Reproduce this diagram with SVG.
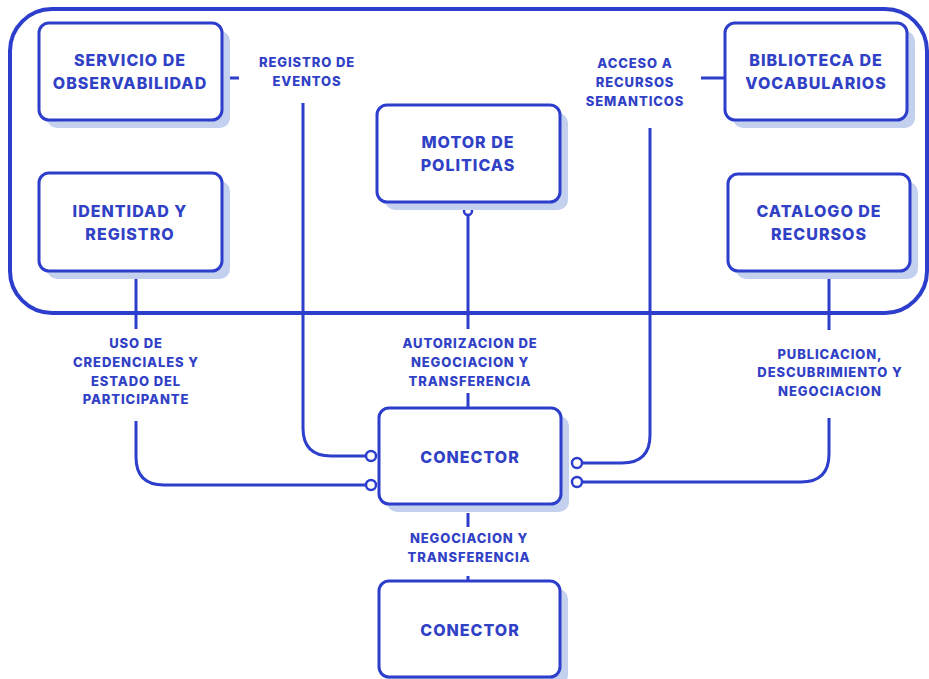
<svg xmlns="http://www.w3.org/2000/svg" width="929" height="679" viewBox="0 0 929 679">
  <style>
    .frame { fill: none; stroke: #2c3ecb; stroke-width: 4; }
    .box { fill: #ffffff; stroke: #2c3ecb; stroke-width: 3; }
    .shadow { fill: #c3d1ef; }
    .wire { fill: none; stroke: #2c3ecb; stroke-width: 3; stroke-linecap: butt; }
    .port { fill: #ffffff; stroke: #2c3ecb; stroke-width: 2.5; }
    .title { font-family: Inter, "Liberation Sans", sans-serif; font-weight: 800; font-size: 16px; letter-spacing: 1px; fill: #3041c6; text-anchor: middle; dominant-baseline: central; }
    .label { font-family: Inter, "Liberation Sans", sans-serif; font-weight: 800; font-size: 13px; letter-spacing: 0.9px; fill: #3041c6; text-anchor: middle; dominant-baseline: central; }
  </style>

  <rect x="0" y="0" width="929" height="679" fill="#ffffff"/>

  <!-- enclosing domain frame -->
  <rect class="frame" x="10" y="9" width="917" height="304" rx="42"/>

  <!-- connectors -->
  <g id="connectors">
    <!-- observabilidad stub -->
    <line class="wire" x1="229" y1="78" x2="239" y2="78"/>
    <!-- registro de eventos -> conector -->
    <path class="wire" d="M303 103 V428 Q303 456 331 456 H366"/>
    <circle class="port" cx="371" cy="456" r="5"/>
    <!-- identidad -> conector -->
    <line class="wire" x1="136" y1="272" x2="136" y2="329"/>
    <path class="wire" d="M136 421 V457 Q136 485 164 485 H366"/>
    <circle class="port" cx="371" cy="485" r="5"/>
    <!-- motor de politicas -> conector -->
    <circle class="port" cx="468" cy="211" r="4"/>
    <line class="wire" x1="468" y1="215" x2="468" y2="329"/>
    <line class="wire" x1="468" y1="393" x2="468" y2="408"/>
    <!-- conector -> conector -->
    <line class="wire" x1="468" y1="513" x2="468" y2="527"/>
    <line class="wire" x1="468" y1="576" x2="468" y2="581"/>
    <!-- vocabularios stub -->
    <line class="wire" x1="701" y1="78" x2="725" y2="78"/>
    <!-- acceso a recursos semanticos -> conector -->
    <path class="wire" d="M650 128 V435 Q650 463 622 463 H582"/>
    <circle class="port" cx="577" cy="463" r="5"/>
    <!-- catalogo -> conector -->
    <line class="wire" x1="829" y1="272" x2="829" y2="330"/>
    <path class="wire" d="M829 418 V454 Q829 482 801 482 H582"/>
    <circle class="port" cx="577" cy="482" r="5"/>
  </g>

  <!-- connector labels -->
  <g id="labels">
    <text class="label" x="307" y="62">REGISTRO DE</text>
    <text class="label" x="307" y="81">EVENTOS</text>
    <text class="label" x="635" y="63">ACCESO A</text>
    <text class="label" x="635" y="82">RECURSOS</text>
    <text class="label" x="635" y="101">SEMANTICOS</text>
    <text class="label" x="136" y="343">USO DE</text>
    <text class="label" x="136" y="362">CREDENCIALES Y</text>
    <text class="label" x="136" y="381">ESTADO DEL</text>
    <text class="label" x="136" y="399">PARTICIPANTE</text>
    <text class="label" x="470" y="343">AUTORIZACION DE</text>
    <text class="label" x="470" y="362">NEGOCIACION Y</text>
    <text class="label" x="470" y="381">TRANSFERENCIA</text>
    <text class="label" x="830" y="354">PUBLICACION,</text>
    <text class="label" x="830" y="372">DESCUBRIMIENTO Y</text>
    <text class="label" x="830" y="391">NEGOCIACION</text>
    <text class="label" x="469" y="538">NEGOCIACION Y</text>
    <text class="label" x="469" y="557">TRANSFERENCIA</text>
  </g>

  <!-- nodes -->
  <g id="servicio-observabilidad">
    <rect class="shadow" x="47" y="31" width="183" height="97" rx="10"/>
    <rect class="box" x="39" y="23" width="183" height="97" rx="10"/>
    <text class="title" x="130" y="60">SERVICIO DE</text>
    <text class="title" x="130" y="83">OBSERVABILIDAD</text>
  </g>

  <g id="identidad-registro">
    <rect class="shadow" x="47" y="181" width="183" height="98" rx="10"/>
    <rect class="box" x="39" y="173" width="183" height="98" rx="10"/>
    <text class="title" x="130" y="211">IDENTIDAD Y</text>
    <text class="title" x="130" y="234">REGISTRO</text>
  </g>

  <g id="motor-politicas">
    <rect class="shadow" x="385" y="113" width="183" height="97" rx="10"/>
    <rect class="box" x="377" y="105" width="183" height="97" rx="10"/>
    <text class="title" x="468" y="142">MOTOR DE</text>
    <text class="title" x="468" y="165">POLITICAS</text>
  </g>

  <g id="biblioteca-vocabularios">
    <rect class="shadow" x="733" y="31" width="182" height="97" rx="10"/>
    <rect class="box" x="725" y="23" width="182" height="97" rx="10"/>
    <text class="title" x="816" y="60">BIBLIOTECA DE</text>
    <text class="title" x="816" y="83">VOCABULARIOS</text>
  </g>

  <g id="catalogo-recursos">
    <rect class="shadow" x="736" y="182" width="182" height="97" rx="10"/>
    <rect class="box" x="728" y="174" width="182" height="97" rx="10"/>
    <text class="title" x="819" y="211">CATALOGO DE</text>
    <text class="title" x="819" y="234">RECURSOS</text>
  </g>

  <g id="conector-principal">
    <rect class="shadow" x="387" y="416" width="182" height="96" rx="10"/>
    <rect class="box" x="379" y="408" width="182" height="96" rx="10"/>
    <text class="title" x="470" y="457">CONECTOR</text>
  </g>

  <g id="conector-contraparte">
    <rect class="shadow" x="387" y="589" width="181" height="96" rx="10"/>
    <rect class="box" x="379" y="581" width="181" height="96" rx="10"/>
    <text class="title" x="470" y="630">CONECTOR</text>
  </g>
</svg>
